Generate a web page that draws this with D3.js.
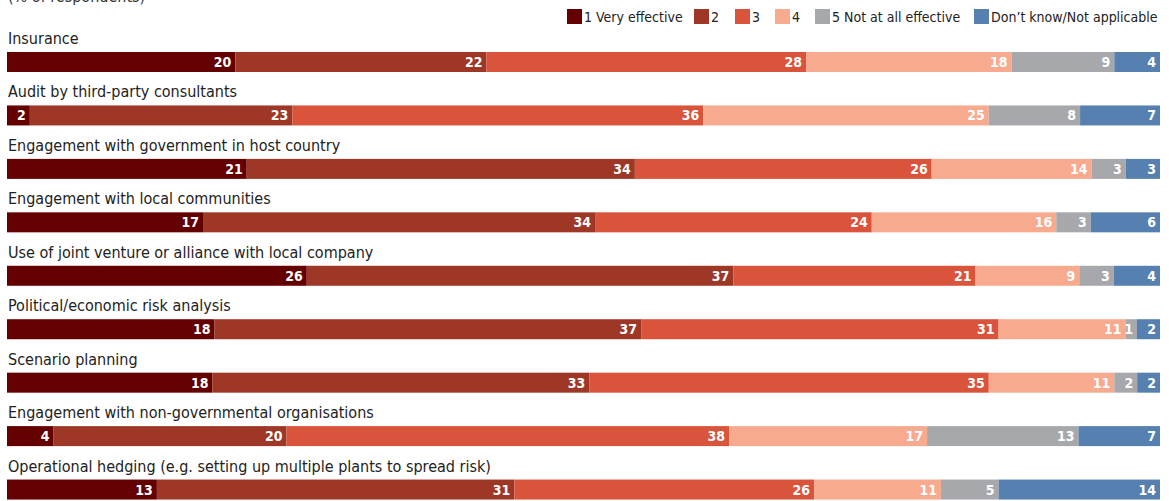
<!DOCTYPE html>
<html><head><meta charset="utf-8">
<script src="https://cdn.jsdelivr.net/npm/d3@7"></script>
<style>
html,body{margin:0;padding:0;background:#fff;}
svg{display:block;}
</style></head>
<body>
<script>
const categories = [
  "Insurance",
  "Audit by third-party consultants",
  "Engagement with government in host country",
  "Engagement with local communities",
  "Use of joint venture or alliance with local company",
  "Political/economic risk analysis",
  "Scenario planning",
  "Engagement with non-governmental organisations",
  "Operational hedging (e.g. setting up multiple plants to spread risk)"
];
const seriesNames = ["1 Very effective","2","3","4","5 Not at all effective","Don\u2019t know/Not applicable"];
const veryEffective = [20, 2, 21, 17, 26, 18, 18, 4, 13];
const rating2       = [22, 23, 34, 34, 37, 37, 33, 20, 31];
const rating3       = [28, 36, 26, 24, 21, 31, 35, 38, 26];
const rating4       = [18, 25, 14, 16, 9, 11, 11, 17, 11];
const notEffective  = [9, 8, 3, 3, 3, 1, 2, 13, 5];
const dontKnow      = [4, 7, 3, 6, 4, 2, 2, 7, 14];
const colors = ["#650000","#9e3726","#da533b","#f8aa8f","#a7a8ab","#5580b0"];

const W = 1169, H = 501;
const svg = d3.select("body").append("svg").attr("width", W).attr("height", H);
const font = "'Liberation Sans Narrow','DejaVu Sans Condensed','Liberation Sans',sans-serif";

svg.append("text").attr("x", 8).attr("y", 2).attr("font-family", font)
  .attr("font-size", 16).attr("fill", "#333").text("(% of respondents)");

// legend
const legX = [567, 694, 735, 775, 815, 974];
const leg = svg.append("g");
seriesNames.forEach((n, i) => {
  leg.append("rect").attr("x", legX[i]).attr("y", 9).attr("width", 15).attr("height", 15).attr("fill", colors[i]);
  leg.append("text").attr("x", legX[i] + 17).attr("y", 22).attr("font-family", font)
    .attr("font-size", 14).attr("fill", "#222").text(n);
});

const series = [veryEffective, rating2, rating3, rating4, notEffective, dontKnow];
const rows = categories.map((c, i) => ({name: c, vals: series.map(s => s[i])}));

const y = d3.scaleBand().domain(categories).range([26, 501 + 6]).paddingInner(0).paddingOuter(0);
const barH = 20;

rows.forEach((r, i) => {
  const total = d3.sum(r.vals);
  const x = d3.scaleLinear().domain([0, total]).range([7, 1160]);
  const top = y(r.name) + 26;
  const g = svg.append("g");
  g.append("text").attr("x", 8).attr("y", top - 8).attr("font-family", font)
    .attr("font-size", 16).attr("fill", "#222").text(r.name);
  let cum = 0;
  r.vals.forEach((v, k) => {
    const x0 = x(cum), x1 = x(cum + v);
    cum += v;
    g.append("rect").attr("x", x0).attr("y", top).attr("width", x1 - x0).attr("height", barH).attr("fill", colors[k]);
    g.append("text").attr("x", x1 - 4).attr("y", top + 15).attr("text-anchor", "end")
      .attr("font-family", font).attr("font-weight", "bold").attr("font-size", 14)
      .attr("fill", "#fff").text(v);
  });
});
</script>
</body></html>
